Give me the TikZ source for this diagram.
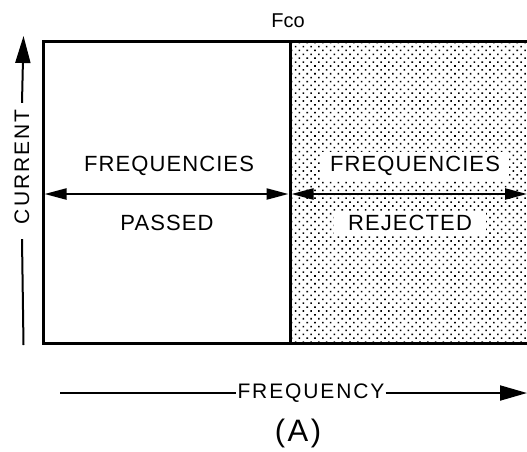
\documentclass[tikz,border=0pt]{standalone}
\usepackage{fontspec}
\setmainfont{Liberation Sans}
\usetikzlibrary{arrows.meta,patterns.meta,positioning}

\tikzset{
  bandarrow/.style={line width=2.2pt,{Triangle[length=22pt,width=11pt]}-{Triangle[length=22pt,width=11pt]}},
  axisline/.style={line width=2pt},
  axishead/.style={-{Triangle[length=27pt,width=15pt]}},
  bandlabel/.style={font=\fontsize{22}{24}\selectfont\addfontfeature{LetterSpace=5},inner sep=4pt},
  axislabel/.style={font=\fontsize{21}{24}\selectfont\addfontfeature{LetterSpace=9},inner sep=1pt},
}

\begin{document}
\begin{tikzpicture}[x=1pt,y=-1pt]
\useasboundingbox (0,0) rectangle (527,451);

% rejected band, stippled
\fill [pattern={Dots[distance=5.5pt,radius=1.1pt,angle=45]}] (290,41) rectangle (530,343);
%
\draw [line width=3pt] (530,41) -- (43,41) -- (43,343) -- (530,343);
\draw [line width=3pt] (290,41) -- (290,343); % cut-off
\node (fco) [font=\fontsize{20}{22}\selectfont] at (288,21) {Fco};

% passed band
\node (passtop) [bandlabel] at (169,166) {FREQUENCIES};
\node (passbot) [bandlabel] at (167,223) {PASSED};
\coordinate (pl) at (44.5,194);
\coordinate (pr) at (288.5,194);
\draw [bandarrow] (pl) -- (pr);

% rejected band
\node (rejtop) [bandlabel,fill=white,inner xsep=9pt] at (415,166) {FREQUENCIES};
\node (rejbot) [bandlabel,fill=white,inner xsep=14pt] at (410,223) {REJECTED};
\coordinate (rl) at (291.5,194);
\coordinate (rr) at (527,194);
\draw [bandarrow] (rl) -- (rr);

% current axis
\node (current) [axislabel,rotate=90] at (22,167) {CURRENT};
\coordinate (cbot) at (23.5,345);
\coordinate (ctop) at (23.5,36);
\draw [axisline] (cbot) -- ([yshift=-14pt]current.west);
\draw [axisline,axishead] ([yshift=6pt]current.east) -- (ctop);

% frequency axis
\node (freq) [axislabel] at (311,393) {FREQUENCY};
\coordinate (fl) at (60,393);
\coordinate (fr) at (527,393);
\draw [axisline] (fl) -- (freq.west);
\draw [axisline,axishead] (freq.east) -- (fr);

\node (caption) [font=\fontsize{31}{34}\selectfont\addfontfeature{LetterSpace=8}] at (298,433) {(A)};

\end{tikzpicture}
\end{document}
